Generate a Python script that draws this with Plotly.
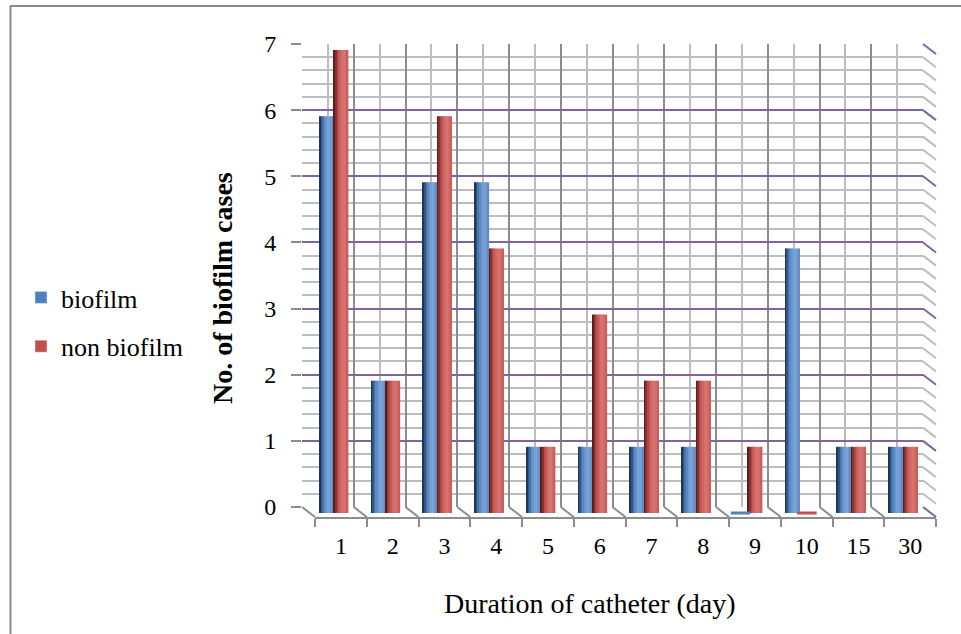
import numpy as np
import plotly.graph_objects as go

# ---- data -------------------------------------------------------------
categories = ["1", "2", "3", "4", "5", "6", "7", "8", "9", "10", "15", "30"]
biofilm = [6, 2, 5, 5, 1, 1, 1, 1, 0, 4, 1, 1]
non_biofilm = [7, 2, 6, 4, 1, 3, 2, 2, 1, 0, 1, 1]
y_ticks = [0, 1, 2, 3, 4, 5, 6, 7]

# ---- page geometry (pixels) -------------------------------------------
W, H = 961, 634
BACK_L, BACK_R, BACK_T, BACK_B = 302, 923, 44, 507   # back wall of the 3-D box
DEPTH_X, DEPTH_Y = 13, 10                            # front plane offset
MID_X, MID_Y = 6, 6                                  # bars sit at mid depth

FONT = "Liberation Serif"
BLUE, RED, PURPLE = "#4F81BD", "#C0504D", "#8064A2"
GRID_LIGHT, GRID_DARK = "#BDBDBD", "#8C8C8C"


def fx(p):
    return p / W


def fy(p):
    return 1 - p / H


def mix(c1, c2, t):
    a = [int(c1[i:i + 2], 16) for i in (1, 3, 5)]
    b = [int(c2[i:i + 2], 16) for i in (1, 3, 5)]
    return "#" + "".join(f"{round(x + (y - x) * t):02X}" for x, y in zip(a, b))


def serif(size, bold=False):
    return dict(family=FONT, size=size, color="black", weight="bold" if bold else "normal")


n = len(categories)
x_lo, x_hi = -0.5, n - 0.5
y_lo, y_hi = y_ticks[0], y_ticks[-1]
ux = (x_hi - x_lo) / (BACK_R - BACK_L)
uy = (y_hi - y_lo) / (BACK_B - BACK_T)

fig = go.Figure()

# ---- back wall: gridlines + value axis (x / y) ------------------------
fig.add_trace(go.Scatter(x=[x_lo], y=[y_lo], mode="markers", marker=dict(opacity=0),
                         showlegend=False, hoverinfo="skip", xaxis="x", yaxis="y"))

# ---- side wall and floor edges (x2 / y2) ------------------------------
F_L, F_R, F_T, F_B = 296, 944, 38, 526
f_xr = [x_lo - (BACK_L - F_L) * ux, x_hi + (F_R - BACK_R) * ux]
f_yr = [y_lo - (F_B - BACK_B) * uy, y_hi + (BACK_T - F_T) * uy]
dx, dy = DEPTH_X * ux, DEPTH_Y * uy

minor_levels = [v for v in np.arange(y_lo, y_hi + 1e-9, 0.2) if abs(v - round(v)) > 1e-6]
sx, sy = [], []
for v in minor_levels:
    sx += [x_hi, x_hi + dx, None]
    sy += [v, v - dy, None]
fig.add_trace(go.Scatter(x=sx, y=sy, mode="lines", line=dict(color=GRID_LIGHT, width=2),
                         showlegend=False, hoverinfo="skip", xaxis="x2", yaxis="y2"))
px_, py_ = [], []
for v in y_ticks:
    px_ += [x_hi, x_hi + dx, None]
    py_ += [v, v - dy, None]
fig.add_trace(go.Scatter(x=px_, y=py_, mode="lines", line=dict(color=PURPLE, width=2),
                         showlegend=False, hoverinfo="skip", xaxis="x2", yaxis="y2"))
fx_, fy_ = [], []
for b in np.arange(x_lo, x_hi, 1.0):
    fx_ += [b, b + dx, None]
    fy_ += [y_lo, y_lo - dy, None]
fig.add_trace(go.Scatter(x=fx_, y=fy_, mode="lines", line=dict(color=GRID_DARK, width=2),
                         showlegend=False, hoverinfo="skip", xaxis="x2", yaxis="y2"))

# ---- front edge with category labels (x3 / y3) -------------------------
fig.add_trace(go.Scatter(x=categories, y=[None] * n, mode="markers", showlegend=False,
                         hoverinfo="skip", xaxis="x3", yaxis="y3"))

# ---- cylinders (x4 / y4) ----------------------------------------------
BAR_W = 0.28
# horizontal shading profile across a cylinder: 0 = dark rim, 1 = highlight
profile = [0.0, 0.25, 0.5, 0.7, 0.85, 0.95, 1.0, 0.9, 0.75]
palettes = {
    "biofilm": ("#1E3658", BLUE, "#7AA3D8"),
    "non biofilm": ("#5E1D1B", RED, "#D77471"),
}


def shade(pal, t):
    dark, main, light = pal
    return mix(dark, main, t / 0.6) if t < 0.6 else mix(main, light, (t - 0.6) / 0.4)


series = [("biofilm", biofilm, -BAR_W), ("non biofilm", non_biofilm, 0.0)]
xs = list(range(n))
nb = len(profile)
for name, vals, off in series:
    pal = palettes[name]
    for k, t in enumerate(profile):
        fig.add_trace(go.Bar(
            x=xs, y=vals, name=name, offset=off + k * BAR_W / nb, width=BAR_W / nb * 1.02,
            marker=dict(color=shade(pal, t), line=dict(width=0)),
            showlegend=False, legendgroup=name, hoverinfo="skip",
            xaxis="x4", yaxis="y4"))
    # legend entry in the series colour
    fig.add_trace(go.Bar(x=[None], y=[None], name=name, marker=dict(color=pal[1]),
                         legendgroup=name, showlegend=True, hoverinfo="skip",
                         xaxis="x4", yaxis="y4"))
    # flat discs where a series is zero
    zx = [i + off + BAR_W / 2 for i, v in enumerate(vals) if v == 0]
    fig.add_trace(go.Scatter(
        x=zx, y=[0] * len(zx), mode="markers", cliponaxis=False,
        marker=dict(symbol="line-ew", size=14, line=dict(width=3, color=pal[1])),
        showlegend=False, legendgroup=name, hoverinfo="skip", xaxis="x4", yaxis="y4"))

hidden = dict(showgrid=False, zeroline=False, showticklabels=False, ticks="", showline=False,
              automargin=False)

fig.update_layout(
    width=W, height=H,
    margin=dict(l=0, r=0, t=0, b=0, autoexpand=False),
    paper_bgcolor="white", plot_bgcolor="rgba(0,0,0,0)",
    font=serif(24),
    barmode="overlay",
    xaxis=dict(domain=[fx(BACK_L), fx(BACK_R)], range=[x_lo, x_hi],
               tick0=x_lo, dtick=1, showgrid=True, gridcolor=GRID_DARK, gridwidth=2,
               minor=dict(tick0=x_lo, dtick=0.5, showgrid=True, gridcolor=GRID_LIGHT, gridwidth=2),
               zeroline=False, showticklabels=False, ticks="", showline=False, automargin=False),
    yaxis=dict(domain=[fy(BACK_B), fy(BACK_T)], range=[y_lo, y_hi],
               tickvals=y_ticks, showgrid=True, gridcolor=PURPLE, gridwidth=2,
               minor=dict(dtick=0.2, showgrid=True, gridcolor=GRID_LIGHT, gridwidth=2),
               zeroline=False, ticks="outside", ticklen=10, tickwidth=2, tickcolor=GRID_DARK,
               ticklabelstandoff=10, tickfont=serif(24), automargin=False),
    xaxis2=dict(domain=[fx(F_L), fx(F_R)], range=f_xr, anchor="y2", **hidden),
    yaxis2=dict(domain=[fy(F_B), fy(F_T)], range=f_yr, anchor="x2", **hidden),
    xaxis3=dict(domain=[fx(BACK_L + DEPTH_X), fx(BACK_R + DEPTH_X)], range=[x_lo, x_hi],
                type="category", anchor="y3", tickson="boundaries", ticks="outside",
                ticklen=8, tickwidth=2, tickcolor=GRID_DARK, showline=True, linecolor=GRID_DARK,
                linewidth=2, showgrid=False, zeroline=False, ticklabelstandoff=6,
                tickfont=serif(24), automargin=False),
    yaxis3=dict(domain=[fy(BACK_B + DEPTH_Y), fy(BACK_T + DEPTH_Y)], range=[y_lo, y_hi],
                anchor="x3", **hidden),
    xaxis4=dict(domain=[fx(BACK_L + MID_X), fx(BACK_R + MID_X)], range=[x_lo, x_hi],
                anchor="y4", **hidden),
    yaxis4=dict(domain=[fy(BACK_B + MID_Y), fy(BACK_T + MID_Y)], range=[y_lo, y_hi],
                anchor="x4", **hidden),
    legend=dict(x=fx(21), y=fy(322), xanchor="left", yanchor="middle",
                traceorder="grouped", tracegroupgap=12, font=serif(26),
                bgcolor="rgba(0,0,0,0)", itemwidth=30),
    annotations=[
        dict(text="No. of biofilm cases", x=fx(222), y=fy(288), xref="paper", yref="paper",
             xanchor="center", yanchor="middle", textangle=-90, showarrow=False,
             font=serif(28, bold=True)),
        dict(text="Duration of catheter (day)", x=fx(590), y=fy(603), xref="paper", yref="paper",
             xanchor="center", yanchor="middle", showarrow=False, font=serif(28)),
    ],
    shapes=[
        dict(type="line", xref="paper", yref="paper", x0=fx(10.5), x1=fx(10.5), y0=fy(6), y1=0,
             line=dict(color="#8C8C8C", width=2)),
        dict(type="line", xref="paper", yref="paper", x0=fx(10), x1=1, y0=fy(6), y1=fy(6),
             line=dict(color="#8C8C8C", width=2)),
    ],
)

fig.write_html("out.html")
